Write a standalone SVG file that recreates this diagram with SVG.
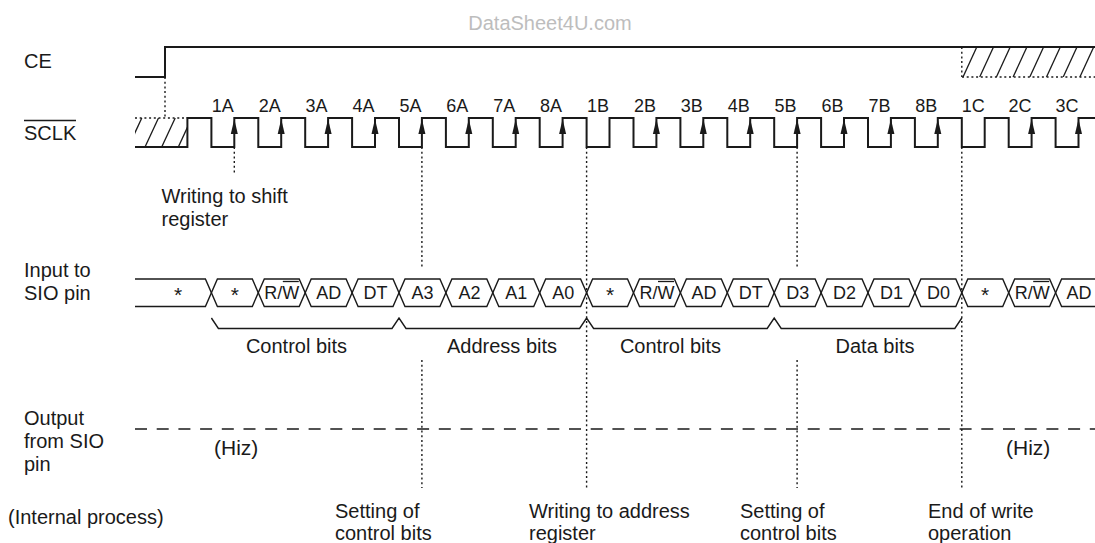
<svg xmlns="http://www.w3.org/2000/svg" width="1095" height="543" viewBox="0 0 1095 543">
<style>
text{font-family:"Liberation Sans",Arial,sans-serif;fill:#1a1a1a}
.lbl{font-size:20px}
.clk{font-size:18px;text-anchor:middle}
.bus{font-size:18px;text-anchor:middle}
.ast{font-size:21px;text-anchor:middle}
.sig{fill:none;stroke:#1a1a1a;stroke-width:2}
.thin{fill:none;stroke:#1a1a1a;stroke-width:1.4}
.hatch{stroke:#1a1a1a;stroke-width:1.3}
.dot{fill:none;stroke:#1a1a1a;stroke-width:1.4;stroke-dasharray:2 2.7}
.arr{fill:#1a1a1a}
</style>
<defs>
<clipPath id="hc1"><rect x="135" y="118" width="52.4" height="29"/></clipPath>
<clipPath id="hc2"><rect x="962" y="47" width="133" height="30"/></clipPath>
</defs>
<rect width="1095" height="543" fill="#fff"/>
<text x="550" y="30" style="font-size:20px;text-anchor:middle;fill:#bdbdbd">DataSheet4U.com</text>

<g id="labels">
<text class="lbl" x="24" y="68">CE</text>
<text class="lbl" x="24" y="140">SCLK</text>
<line x1="24" y1="120.5" x2="76" y2="120.5" stroke="#1a1a1a" stroke-width="1.5"/>
<text class="lbl" x="24" y="277">Input to</text>
<text class="lbl" x="24" y="300">SIO pin</text>
<text class="lbl" x="24" y="425">Output</text>
<text class="lbl" x="24" y="448">from SIO</text>
<text class="lbl" x="24" y="471">pin</text>
<text class="lbl" x="8" y="524">(Internal process)</text>
</g>

<g id="ce">
<path class="sig" d="M135 77 H165 V47 H1095"/>
<g clip-path="url(#hc2)">
<line class="hatch" x1="963" y1="77" x2="976.8" y2="47"/>
<line class="hatch" x1="979.7" y1="77" x2="993.5" y2="47"/>
<line class="hatch" x1="996.4" y1="77" x2="1010.2" y2="47"/>
<line class="hatch" x1="1013.1" y1="77" x2="1026.9" y2="47"/>
<line class="hatch" x1="1029.8" y1="77" x2="1043.6" y2="47"/>
<line class="hatch" x1="1046.5" y1="77" x2="1060.3" y2="47"/>
<line class="hatch" x1="1063.2" y1="77" x2="1077" y2="47"/>
<line class="hatch" x1="1079.9" y1="77" x2="1093.7" y2="47"/>
</g>
<line class="dot" x1="962" y1="77" x2="1095" y2="77"/>
<line class="dot" x1="961.8" y1="47" x2="961.8" y2="77"/>
</g>

<g id="sclk">
<g clip-path="url(#hc1)">
<line class="hatch" x1="128.3" y1="147" x2="141.8" y2="118"/>
<line class="hatch" x1="145" y1="147" x2="158.5" y2="118"/>
<line class="hatch" x1="161.7" y1="147" x2="175.2" y2="118"/>
<line class="hatch" x1="178.3" y1="147" x2="191.8" y2="118"/>
</g>
<line class="dot" x1="135" y1="118" x2="187.4" y2="118"/>
<path class="sig" d="M135 147 H187.4 V118 H211.4 V147 H234.3 V118 H258.3 V147 H281.2 V118 H305.2 V147 H328.1 V118 H352.1 V147 H375 V118 H399 V147 H421.9 V118 H445.9 V147 H468.8 V118 H492.8 V147 H515.7 V118 H539.7 V147 H562.6 V118 H586.6 V147 H609.5 V118 H633.5 V147 H656.4 V118 H680.4 V147 H703.3 V118 H727.3 V147 H750.2 V118 H774.2 V147 H797.1 V118 H821.1 V147 H844 V118 H868 V147 H890.9 V118 H914.9 V147 H937.8 V118 H961.8 V147 H984.7 V118 H1008.7 V147 H1031.6 V118 H1055.6 V147 H1078.5 V118 H1095"/>
<g class="arr">
<polygon points="234.3,119 230.8,134 237.8,134"/>
<polygon points="281.2,119 277.7,134 284.7,134"/>
<polygon points="328.1,119 324.6,134 331.6,134"/>
<polygon points="375,119 371.5,134 378.5,134"/>
<polygon points="421.9,119 418.4,134 425.4,134"/>
<polygon points="468.8,119 465.3,134 472.3,134"/>
<polygon points="515.7,119 512.2,134 519.2,134"/>
<polygon points="562.6,119 559.1,134 566.1,134"/>
<polygon points="656.4,119 652.9,134 659.9,134"/>
<polygon points="703.3,119 699.8,134 706.8,134"/>
<polygon points="750.2,119 746.7,134 753.7,134"/>
<polygon points="797.1,119 793.6,134 800.6,134"/>
<polygon points="844,119 840.5,134 847.5,134"/>
<polygon points="890.9,119 887.4,134 894.4,134"/>
<polygon points="937.8,119 934.3,134 941.3,134"/>
<polygon points="1031.6,119 1028.1,134 1035.1,134"/>
<polygon points="1078.5,119 1075,134 1082,134"/>
</g>
<g class="clk">
<text x="222.8" y="111.5">1A</text>
<text x="269.7" y="111.5">2A</text>
<text x="316.6" y="111.5">3A</text>
<text x="363.5" y="111.5">4A</text>
<text x="410.4" y="111.5">5A</text>
<text x="457.3" y="111.5">6A</text>
<text x="504.2" y="111.5">7A</text>
<text x="551.1" y="111.5">8A</text>
<text x="598" y="111.5">1B</text>
<text x="644.9" y="111.5">2B</text>
<text x="691.8" y="111.5">3B</text>
<text x="738.7" y="111.5">4B</text>
<text x="785.6" y="111.5">5B</text>
<text x="832.5" y="111.5">6B</text>
<text x="879.4" y="111.5">7B</text>
<text x="926.3" y="111.5">8B</text>
<text x="973.2" y="111.5">1C</text>
<text x="1020.1" y="111.5">2C</text>
<text x="1067" y="111.5">3C</text>
</g>
</g>

<g id="sio-in">
<path class="thin" d="M135 279 H205.4 L217.4 306.5 H252.3 L264.3 279 H299.2 L311.2 306.5 H346.1 L358.1 279 H393 L405 306.5 H439.9 L451.9 279 H486.8 L498.8 306.5 H533.7 L545.7 279 H580.6 L592.6 306.5 H627.5 L639.5 279 H674.4 L686.4 306.5 H721.3 L733.3 279 H768.2 L780.2 306.5 H815.1 L827.1 279 H862 L874 306.5 H908.9 L920.9 279 H955.8 L967.8 306.5 H1002.7 L1014.7 279 H1049.6 L1061.6 306.5 H1095"/>
<path class="thin" d="M135 306.5 H205.4 L217.4 279 H252.3 L264.3 306.5 H299.2 L311.2 279 H346.1 L358.1 306.5 H393 L405 279 H439.9 L451.9 306.5 H486.8 L498.8 279 H533.7 L545.7 306.5 H580.6 L592.6 279 H627.5 L639.5 306.5 H674.4 L686.4 279 H721.3 L733.3 306.5 H768.2 L780.2 279 H815.1 L827.1 306.5 H862 L874 279 H908.9 L920.9 306.5 H955.8 L967.8 279 H1002.7 L1014.7 306.5 H1049.6 L1061.6 279 H1095"/>
<g class="ast">
<text x="178" y="302">*</text>
<text x="234.9" y="302">*</text>
<text x="610" y="302">*</text>
<text x="985.2" y="302">*</text>
</g>
<g class="bus">
<text x="281.8" y="298.5">R/W</text>
<text x="328.7" y="298.5">AD</text>
<text x="375.6" y="298.5">DT</text>
<text x="422.5" y="298.5">A3</text>
<text x="469.4" y="298.5">A2</text>
<text x="516.3" y="298.5">A1</text>
<text x="563.2" y="298.5">A0</text>
<text x="657" y="298.5">R/W</text>
<text x="703.9" y="298.5">AD</text>
<text x="750.8" y="298.5">DT</text>
<text x="797.7" y="298.5">D3</text>
<text x="844.6" y="298.5">D2</text>
<text x="891.5" y="298.5">D1</text>
<text x="938.4" y="298.5">D0</text>
<text x="1032.2" y="298.5">R/W</text>
<text x="1079" y="298.5">AD</text>
</g>
<g stroke="#1a1a1a" stroke-width="1.3">
<line x1="282.8" y1="281.5" x2="298.8" y2="281.5"/>
<line x1="658" y1="281.5" x2="674" y2="281.5"/>
<line x1="1033.2" y1="281.5" x2="1049.2" y2="281.5"/>
</g>
<path class="thin" d="M211.4 318 L218.4 328.5 H392 L399 318 L406 328.5 H579.6 L586.6 318 L593.6 328.5 H767.2 L774.2 318 L781.2 328.5 H954.8 L961.8 318"/>
<text class="lbl" x="296.5" y="353" text-anchor="middle">Control bits</text>
<text class="lbl" x="502" y="353" text-anchor="middle">Address bits</text>
<text class="lbl" x="670.5" y="353" text-anchor="middle">Control bits</text>
<text class="lbl" x="875" y="353" text-anchor="middle">Data bits</text>
</g>

<g id="sio-out">
<line x1="135" y1="429" x2="1095" y2="429" stroke="#1a1a1a" stroke-width="1.6" stroke-dasharray="12 9.7"/>
<text x="214" y="455" style="font-size:21px">(Hiz)</text>
<text x="1006" y="455" style="font-size:21px">(Hiz)</text>
</g>

<g id="connectors">
<line class="dot" x1="165" y1="77" x2="165" y2="118"/>
<line class="dot" x1="234.3" y1="147" x2="234.3" y2="175"/>
<line class="dot" x1="421.9" y1="147" x2="421.9" y2="268"/>
<line class="dot" x1="421.9" y1="360" x2="421.9" y2="488"/>
<line class="dot" x1="586.6" y1="147" x2="586.6" y2="488"/>
<line class="dot" x1="797.1" y1="147" x2="797.1" y2="268"/>
<line class="dot" x1="797.1" y1="360" x2="797.1" y2="488"/>
<line class="dot" x1="961.8" y1="147" x2="961.8" y2="488"/>
</g>

<g id="notes">
<text class="lbl" x="161.5" y="203">Writing to shift</text>
<text class="lbl" x="161.5" y="226">register</text>
<text class="lbl" x="335" y="518">Setting of</text>
<text class="lbl" x="335" y="540">control bits</text>
<text class="lbl" x="529" y="518">Writing to address</text>
<text class="lbl" x="529" y="540">register</text>
<text class="lbl" x="740" y="518">Setting of</text>
<text class="lbl" x="740" y="540">control bits</text>
<text class="lbl" x="928" y="518">End of write</text>
<text class="lbl" x="928" y="540">operation</text>
</g>
</svg>
